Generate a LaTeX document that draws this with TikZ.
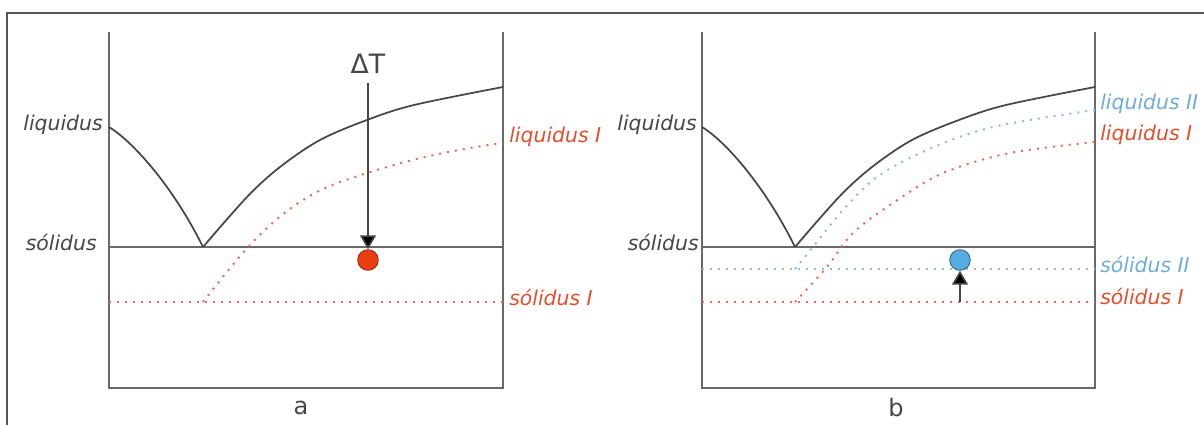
\documentclass[tikz,border=0pt]{standalone}
\usepackage{fontspec}
\setmainfont{DejaVu Sans}
\usetikzlibrary{arrows.meta}
\definecolor{framecol}{RGB}{85,85,85}
\definecolor{axiscol}{RGB}{105,105,105}
\definecolor{curvecol}{RGB}{70,70,70}
\definecolor{labelcol}{RGB}{70,70,70}
\definecolor{redtxt}{RGB}{228,78,45}
\definecolor{reddash}{RGB}{238,105,90}
\definecolor{bluetxt}{RGB}{110,172,218}
\definecolor{bluedash}{RGB}{140,188,222}
\definecolor{dotred}{RGB}{232,62,18}
\definecolor{dotredline}{RGB}{150,45,20}
\definecolor{dotblue}{RGB}{85,172,226}
\definecolor{dotblueline}{RGB}{50,95,125}
\begin{document}
\begin{tikzpicture}[x=0.75pt,y=-0.75pt,
  framestyle/.style={draw=framecol,line width=1.5pt},
  axisline/.style={draw=axiscol,line width=1.4pt},
  curveline/.style={draw=curvecol,line width=1.3pt},
  dotline/.style={line width=1.5pt,dash pattern=on 1.5pt off 4.5pt},
  lbl/.style={font=\fontsize{15.3}{17}\selectfont\itshape,inner sep=0pt},
  blacklbl/.style={lbl,text=labelcol,anchor=east},
  redlbl/.style={lbl,text=redtxt,anchor=west},
  bluelbl/.style={lbl,text=bluetxt,anchor=west},
  panellbl/.style={font=\fontsize{18}{20}\selectfont,text=labelcol,inner sep=0pt},
  ball/.style={circle,minimum size=15.5pt,inner sep=0pt,line width=0.6pt},
  arr/.style={draw=curvecol,line width=1.2pt,-{Triangle[width=12pt,length=10.5pt,fill=black]}}
]
\useasboundingbox (0,0) rectangle (1204,425);
% outer frame
\draw[framestyle] (7,430) -- (7,13) -- (1210,13);

% ===== panel a =====
\draw[axisline] (109,32) -- (109,388) -- (503,388) -- (503,32);
\draw[axisline] (109,247) -- (503,247);
\draw[dotline,reddash] (109,302) -- (503,302);
\draw[dotline,reddash] (203,302) .. controls (235,262) and (275,205) .. (340,182)
                              .. controls (400,161) and (450,150) .. (503,143);
\draw[curveline] (109,127) .. controls (135,143) and (175,190) .. (203,247);
\draw[curveline] plot[smooth,tension=0.55] coordinates {(203,247) (247,197) (280,167) (320,140) (367,120) (414,105) (503,87)};
\node[blacklbl] (liqa) at (103,125) {liquidus};
\node[blacklbl] (sola) at (97,242) {sólidus};
\node[redlbl] (liqIa) at (509,137) {liquidus I};
\node[redlbl] (solIa) at (509,297) {sólidus I};
\node[font=\fontsize{20}{22}\selectfont,text=labelcol,inner sep=0pt] (dT) at (368,64) {ΔT};
\coordinate (dTstart) at (368,83);
\node[ball,fill=dotred,draw=dotredline] (reddotnode) at (368,260) {};
\draw[arr] (dTstart) -- (reddotnode.north);
\node[panellbl] (la) at (301,408) {a};

% ===== panel b =====
\draw[axisline] (702,32) -- (702,388) -- (1095,388) -- (1095,32);
\draw[axisline] (702,247) -- (1095,247);
\draw[dotline,bluedash] (702,269) -- (1095,269);
\draw[dotline,reddash] (702,302) -- (1095,302);
\draw[dotline,bluedash] plot[smooth,tension=0.55] coordinates {(795,269) (813,247) (843,210) (877,177) (927,150) (993,127) (1095,110)};
\draw[dotline,reddash] plot[smooth,tension=0.55] coordinates {(795,302) (827,267) (853,233) (893,203) (943,173) (1010,153) (1095,142)};
\draw[curveline] (702,127) .. controls (728,143) and (767,190) .. (795,247);
\draw[curveline] plot[smooth,tension=0.55] coordinates {(795,247) (839,197) (872,167) (912,140) (959,120) (1006,105) (1095,87)};
\node[blacklbl] (liqb) at (697,125) {liquidus};
\node[blacklbl] (solb) at (699,242) {sólidus};
\node[bluelbl] (liqIIb) at (1100,104) {liquidus II};
\node[redlbl] (liqIb) at (1100,135) {liquidus I};
\node[bluelbl] (solIIb) at (1100,264) {sólidus II};
\node[redlbl] (solIb) at (1100,296) {sólidus I};
\coordinate (upstart) at (960,302);
\node[ball,fill=dotblue,draw=dotblueline] (bluedotnode) at (960,260) {};
\draw[arr] (upstart) -- (bluedotnode.south);
\node[panellbl] (lb) at (896,408) {b};
\end{tikzpicture}
\end{document}
